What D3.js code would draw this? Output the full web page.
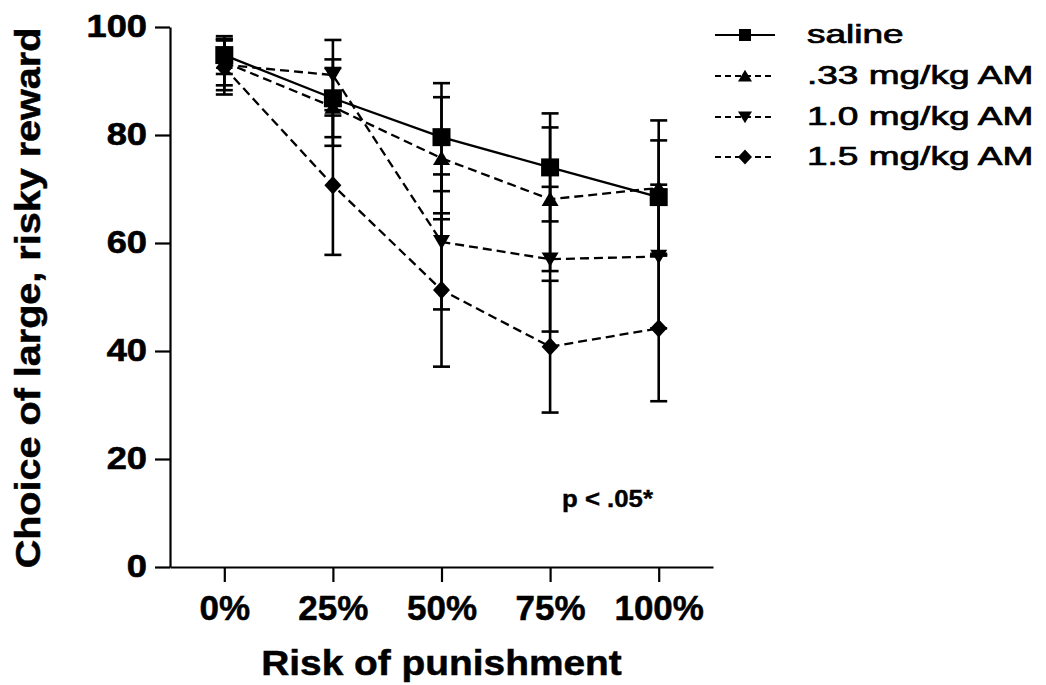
<!DOCTYPE html>
<html>
<head>
<meta charset="utf-8">
<script src="https://cdn.jsdelivr.net/npm/d3@7"></script>
<style>
  html, body { margin: 0; padding: 0; background: #fff; }
  svg { display: block; }
  text { font-family: "Liberation Sans", Arial, Helvetica, sans-serif; fill: #000; }
</style>
</head>
<body>
<script>
// Risk levels on the x axis
const categories = ["0%", "25%", "50%", "75%", "100%"];
const yTicks = [0, 20, 40, 60, 80, 100];

// Group labels
const seriesNames = ["saline", ".33 mg/kg AM", "1.0 mg/kg AM", "1.5 mg/kg AM"];

// Mean % choice of the large, risky reward, and SEM, per group
const salineMean = [94.8, 86.8, 79.6, 74.0, 68.5];
const salineSem  = [3.5, 7.2, 10.0, 10.0, 10.5];
const am033Mean  = [93.5, 85.2, 75.7, 68.1, 70.2];
const am033Sem   = [4.3, 7.2, 11.3, 13.3, 12.5];
const am10Mean   = [93.0, 91.1, 60.2, 57.0, 57.5];
const am10Sem    = [4.7, 6.5, 12.5, 13.4, 13.3];
const am15Mean   = [92.5, 70.7, 51.3, 40.8, 44.2];
const am15Sem    = [5.0, 12.9, 14.2, 12.2, 13.5];

const statNote = "p < .05*";
const xTitle = "Risk of punishment";
const yTitle = "Choice of large, risky reward";

const series = [
  { name: seriesNames[0], mean: salineMean, sem: salineSem },
  { name: seriesNames[1], mean: am033Mean, sem: am033Sem },
  { name: seriesNames[2], mean: am10Mean, sem: am10Sem },
  { name: seriesNames[3], mean: am15Mean, sem: am15Sem }
];

// Per-group drawing style
const styles = [
  { shape: "square", dash: null },
  { shape: "up", dash: "9,5" },
  { shape: "down", dash: "9,5" },
  { shape: "diamond", dash: "9,5" }
];

function markerPath(shape, s) {
  // s: overall marker size in px
  const h = s / 2;
  switch (shape) {
    case "square":
      return `M${-h},${-h}h${s}v${s}h${-s}Z`;
    case "up":
      return `M0,${-h * 0.9}L${h},${h * 0.8}L${-h},${h * 0.8}Z`;
    case "down":
      return `M0,${h * 0.9}L${h},${-h * 0.8}L${-h},${-h * 0.8}Z`;
    case "diamond":
      return `M0,${-h * 1.08}L${h},0L0,${h * 1.08}L${-h},0Z`;
  }
}

function stretch(sel, k) {
  sel.each(function () {
    const w = this.getComputedTextLength();
    this.setAttribute("textLength", w * k);
    this.setAttribute("lengthAdjust", "spacingAndGlyphs");
  });
}

const W = 1046, H = 685;
const svg = d3.select("body").append("svg").attr("width", W).attr("height", H);

const x = d3.scalePoint().domain(categories).range([170, 713]).padding(0.5);
const y = d3.scaleLinear().domain([0, 100]).range([567, 27]);

// Y axis
const yAxis = svg.append("g")
  .attr("transform", "translate(170,0)")
  .call(d3.axisLeft(y).tickValues(yTicks).tickSize(15).tickSizeOuter(0).tickPadding(8));
yAxis.select(".domain").attr("stroke", "#000").attr("stroke-width", 2.2);
yAxis.selectAll(".tick line").attr("stroke", "#000").attr("stroke-width", 2.2);
yAxis.selectAll(".tick text")
  .attr("font-size", 31).attr("font-weight", "bold").attr("fill", "#000")
  .attr("stroke", "#000").attr("stroke-width", 0.6)
  .call(stretch, 1.17);

// X axis
const xAxis = svg.append("g")
  .attr("transform", "translate(0,567)")
  .call(d3.axisBottom(x).tickSize(15).tickSizeOuter(0).tickPadding(13));
xAxis.select(".domain").attr("stroke", "#000").attr("stroke-width", 2.2);
xAxis.selectAll(".tick line").attr("stroke", "#000").attr("stroke-width", 2.2);
xAxis.selectAll(".tick text")
  .attr("font-size", 35).attr("font-weight", "bold").attr("fill", "#000")
  .attr("stroke", "#000").attr("stroke-width", 0.5);

// Axis titles
svg.append("text")
  .attr("x", x("50%")).attr("y", 675)
  .attr("text-anchor", "middle")
  .attr("font-size", 35).attr("font-weight", "bold")
  .attr("stroke", "#000").attr("stroke-width", 0.5)
  .text(xTitle)
  .call(stretch, 1.11);

svg.append("text")
  .attr("transform", "translate(40,298) rotate(-90)")
  .attr("text-anchor", "middle")
  .attr("font-size", 35).attr("font-weight", "bold")
  .attr("stroke", "#000").attr("stroke-width", 0.5)
  .text(yTitle)
  .call(stretch, 1.13);

// Series lines
const line = d3.line()
  .x((d, i) => x(categories[i]))
  .y(d => y(d));

const plot = svg.append("g");
series.forEach((s, si) => {
  plot.append("path")
    .datum(s.mean)
    .attr("d", line)
    .attr("fill", "none")
    .attr("stroke", "#000")
    .attr("stroke-width", 2.3)
    .attr("stroke-dasharray", styles[si].dash);
});

// Error bars (mean ± SEM)
const capHalf = 8.5;
series.forEach(s => {
  const g = plot.append("g").attr("stroke", "#000").attr("stroke-width", 2.6);
  s.mean.forEach((m, i) => {
    const cx = x(categories[i]);
    const lo = y(m - s.sem[i]), hi = y(m + s.sem[i]);
    g.append("line").attr("x1", cx).attr("x2", cx).attr("y1", lo).attr("y2", hi);
    g.append("line").attr("x1", cx - capHalf).attr("x2", cx + capHalf).attr("y1", lo).attr("y2", lo);
    g.append("line").attr("x1", cx - capHalf).attr("x2", cx + capHalf).attr("y1", hi).attr("y2", hi);
  });
});

// Markers
series.forEach((s, si) => {
  plot.append("g").selectAll("path")
    .data(s.mean)
    .join("path")
    .attr("transform", (d, i) => `translate(${x(categories[i])},${y(d)})`)
    .attr("d", markerPath(styles[si].shape, styles[si].shape === "square" ? 18 : 17))
    .attr("fill", "#000");
});

// Significance note
svg.append("text")
  .attr("x", 562).attr("y", 507)
  .attr("font-size", 23).attr("font-weight", "bold")
  .attr("stroke", "#000").attr("stroke-width", 0.4)
  .text(statNote)
  .call(stretch, 1.12);

// Legend
const legend = svg.append("g");
const rowY = [35, 76, 117, 157];
series.forEach((s, si) => {
  const g = legend.append("g").attr("transform", `translate(0,${rowY[si]})`);
  g.append("line")
    .attr("x1", 715).attr("x2", 775).attr("y1", 0).attr("y2", 0)
    .attr("stroke", "#000").attr("stroke-width", 2.2)
    .attr("stroke-dasharray", styles[si].dash ? "6,4" : null);
  g.append("path")
    .attr("transform", "translate(745,0)")
    .attr("d", markerPath(styles[si].shape, styles[si].shape === "square" ? 12 : 14))
    .attr("fill", "#000");
  g.append("text")
    .attr("x", 807).attr("y", 8)
    .attr("font-size", 25)
    .attr("stroke", "#000").attr("stroke-width", 0.7)
    .text(s.name)
    .call(stretch, 1.48);
});
</script>
</body>
</html>
